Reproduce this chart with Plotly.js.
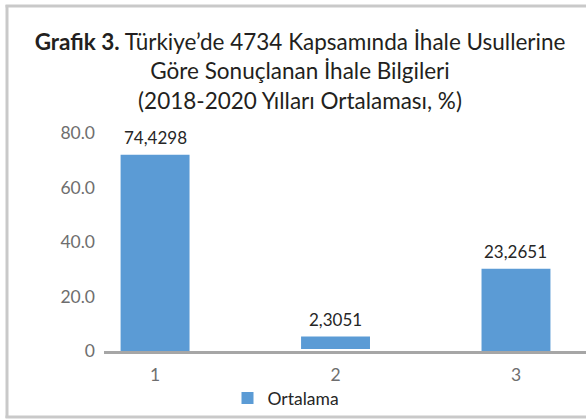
<!DOCTYPE html>
<html>
<head>
<meta charset="utf-8">
<script src="https://cdn.plot.ly/plotly-3.0.1.min.js"></script>
<style>
html,body{margin:0;padding:0;background:#fff;}
#chart{width:586px;height:419px;}
</style>
</head>
<body>
<div id="chart"></div>
<script>
// Data
const categories = [1, 2, 3];
const tickLabels = ['1', '2', '3'];
const barHeights = [72.0, 4.6, 30.2];   // heights as drawn
const barBases = [0, 0.7, 0];           // bar 2 floats slightly above the axis
const valueLabels = ['74,4298', '2,3051', '23,2651'];
const seriesName = 'Ortalama';
const yTickVals = [0, 20, 40, 60, 80];
const yTickText = ['0', '20.0', '40.0', '60.0', '80.0'];

const barColor = '#5B9BD5';
const fontFam = 'Lato, "Open Sans", sans-serif';

const trace = {
  type: 'bar',
  x: categories,
  y: barHeights,
  base: barBases,
  name: seriesName,
  marker: {color: barColor},
  width: 0.382,
  showlegend: true,
  hoverinfo: 'none'
};

const annotations = categories.map((c, i) => ({
  x: c,
  y: barBases[i] + barHeights[i],
  xref: 'x', yref: 'y',
  text: valueLabels[i],
  showarrow: false,
  yanchor: 'bottom',
  yshift: 5,
  font: {family: fontFam, size: 17, color: '#262626'}
}));

const L = 104, T = 133, W = 586, H = 419, B = 68;
const pw = W - L, ph = H - T - B;
const px = v => (v - L) / pw;
const py = v => (H - B - v) / ph;
const borderColor = '#c9c9c9';
const shapes = [
  {type: 'line', xref: 'paper', yref: 'paper', x0: px(7), x1: px(7), y0: py(5), y1: py(418), line: {color: borderColor, width: 3}},
  {type: 'line', xref: 'paper', yref: 'paper', x0: px(5.5), x1: px(600), y0: py(6), y1: py(6), line: {color: borderColor, width: 3}},
  {type: 'line', xref: 'paper', yref: 'paper', x0: px(5.5), x1: px(600), y0: py(417), y1: py(417), line: {color: borderColor, width: 3}}
];

const layout = {
  width: W, height: H,
  margin: {l: L, r: 0, t: T, b: B, pad: 0},
  paper_bgcolor: '#fff',
  plot_bgcolor: '#fff',
  font: {family: fontFam},
  title: {
    text: '<b>Grafik 3.</b> Türkiye’de 4734 Kapsamında İhale Usullerine<br>Göre Sonuçlanan İhale Bilgileri<br>(2018-2020 Yılları Ortalaması, %)',
    x: 300 / W, xanchor: 'center',
    y: 1 - 50 / H, yanchor: 'top',
    font: {family: fontFam, size: 22.5, color: '#231f20'}
  },
  xaxis: {
    range: [0.717, 3.388],
    tickvals: categories,
    ticktext: tickLabels,
    showgrid: false,
    zeroline: false,
    showline: true,
    linecolor: '#a6a6a6',
    linewidth: 3,
    ticks: '',
    tickfont: {family: fontFam, size: 17.5, color: '#6e6e6e'},
    ticklabelstandoff: 6,
    fixedrange: true
  },
  yaxis: {
    range: [0, 80],
    tickvals: yTickVals,
    ticktext: yTickText,
    showgrid: false,
    zeroline: false,
    showline: false,
    ticks: '',
    tickfont: {family: fontFam, size: 17.5, color: '#6e6e6e'},
    ticklabelstandoff: 8,
    fixedrange: true
  },
  showlegend: true,
  legend: {
    orientation: 'h',
    x: 286 / W, xanchor: 'center', xref: 'container',
    y: 1 - 398 / H, yanchor: 'middle', yref: 'container',
    font: {family: fontFam, size: 17.5, color: '#262626'},
    bgcolor: 'rgba(0,0,0,0)'
  },
  annotations: annotations,
  shapes: shapes,
  bargap: 0.6
};

Plotly.newPlot('chart', [trace], layout, {displayModeBar: false, staticPlot: true});
</script>
</body>
</html>
